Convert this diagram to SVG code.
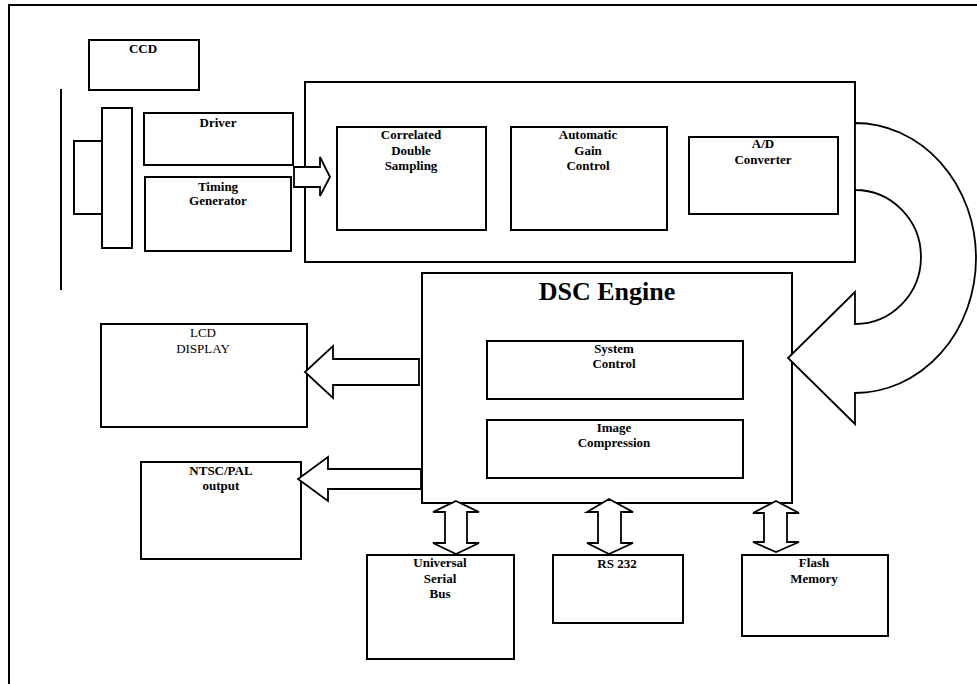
<svg xmlns="http://www.w3.org/2000/svg" width="977" height="684" viewBox="0 0 977 684">
<style>
rect, .b { fill: #fff; stroke: #000; stroke-width: 2; }
.a { fill: #fff; stroke: #000; stroke-width: 1.8; stroke-linejoin: miter; }
text { font-family: "Liberation Serif", "Times New Roman", serif; font-size: 13px; font-weight: bold; text-anchor: middle; fill: #000; }
.n { font-weight: normal; }
.big { font-size: 26px; }
</style>
<rect x="0" y="0" width="977" height="684" style="fill:#fff;stroke:none"/>
<path d="M9,684 V5 H977" fill="none" stroke="#000" stroke-width="2"/>
<line x1="61" y1="89" x2="61" y2="290" stroke="#000" stroke-width="2"/>

<g id="ccd"><rect x="89" y="40" width="110" height="50"/><text x="143" y="53">CCD</text></g>
<g id="connector-block"><rect x="74" y="141" width="28" height="73"/><rect x="102" y="108" width="30" height="140"/></g>
<g id="driver"><rect x="144" y="113" width="149" height="52"/><text x="218" y="127">Driver</text></g>
<g id="timing"><rect x="145" y="177" width="146" height="74"/><text x="218" y="191">Timing</text><text x="218" y="205">Generator</text></g>

<g id="analog"><rect x="305" y="82" width="550" height="180"/></g>
<g id="cds"><rect x="337" y="127" width="149" height="103"/><text x="411" y="139">Correlated</text><text x="411" y="155">Double</text><text x="411" y="170">Sampling</text></g>
<g id="agc"><rect x="511" y="127" width="156" height="103"/><text x="588" y="139">Automatic</text><text x="588" y="155">Gain</text><text x="588" y="170">Control</text></g>
<g id="adc"><rect x="689" y="137" width="149" height="77"/><text x="763" y="148">A/D</text><text x="763" y="164">Converter</text></g>

<g id="dsc"><rect x="422" y="273" width="370" height="230"/><text class="big" x="607" y="300">DSC Engine</text></g>
<g id="sysctl"><rect x="487" y="341" width="256" height="58"/><text x="614" y="353">System</text><text x="614" y="368">Control</text></g>
<g id="imgcomp"><rect x="487" y="420" width="256" height="58"/><text x="614" y="432">Image</text><text x="614" y="447">Compression</text></g>

<g id="lcd"><rect x="101" y="324" width="206" height="103"/><text class="n" x="203" y="337">LCD</text><text class="n" x="203" y="353">DISPLAY</text></g>
<g id="ntsc"><rect x="141" y="462" width="160" height="97"/><text x="221" y="475">NTSC/PAL</text><text x="221" y="490">output</text></g>
<g id="usb"><rect x="367" y="555" width="147" height="104"/><text x="440" y="567">Universal</text><text x="440" y="583">Serial</text><text x="440" y="598">Bus</text></g>
<g id="rs232"><rect x="553" y="555" width="130" height="68"/><text x="617" y="568">RS 232</text></g>
<g id="flash"><rect x="742" y="555" width="146" height="81"/><text x="814" y="567">Flash</text><text x="814" y="583">Memory</text></g>

<g id="connectors">
<polygon class="a" points="294,167 320,167 320,157 330,177 320,196 320,187 294,187"/>
<path class="a" d="M855,123 A121,135 0 0 1 855,393 L855,424 L788,358 L855,292 L855,324 A66,67 0 0 0 855,190 Z"/>
<polygon class="a" points="419,359 333,359 333,346 305,372 333,398 333,385 419,385"/>
<polygon class="a" points="421,469 328,469 328,457 298,479 328,501 328,489 421,489"/>
<polygon class="a" points="456,501 479,512 467,512 467,543 479,543 456,554 433,543 445,543 445,512 433,512"/>
<polygon class="a" points="609,499 633,512 621,512 621,543 633,543 609,554 587,543 598,543 598,512 587,512"/>
<polygon class="a" points="776,501 799,513 787,513 787,542 799,542 776,552 753,542 764,542 764,513 753,513"/>
</g>
</svg>
